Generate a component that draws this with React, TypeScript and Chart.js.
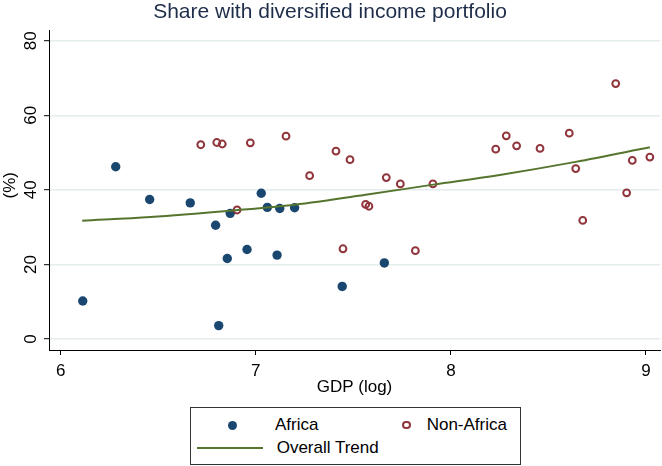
import React, { useEffect, useRef } from "react";
import { Chart, registerables } from "chart.js";

Chart.register(...registerables);

const FONT = "'Liberation Sans', Arial, Helvetica, sans-serif";

const titleText = "Share with diversified income portfolio";
const xTitle = "GDP (log)";
const yTitle = "  (%)";
const xTickValues = [6, 7, 8, 9];
const yTickValues = [0, 20, 40, 60, 80];

const africaX = [6.113, 6.282, 6.456, 6.664, 6.794, 6.81, 6.854, 6.869, 6.955, 7.028, 7.059, 7.109, 7.123, 7.199, 7.443, 7.659];
const africaY = [10.2, 46.2, 37.4, 36.5, 30.5, 3.6, 21.6, 33.7, 24.0, 39.1, 35.3, 22.5, 35.0, 35.2, 14.1, 20.4];

const nonAfricaX = [6.718, 6.8, 6.828, 6.972, 7.155, 6.904, 7.276, 7.411, 7.483, 7.563, 7.58, 7.447, 7.669, 7.741, 7.818, 7.908, 8.23, 8.284, 8.337, 8.457, 8.607, 8.64, 8.676, 8.845, 8.901, 8.93, 9.02];
const nonAfricaY = [52.1, 52.7, 52.3, 52.6, 54.4, 34.6, 43.8, 50.4, 48.1, 36.1, 35.6, 24.2, 43.3, 41.6, 23.7, 41.6, 50.9, 54.5, 51.8, 51.1, 55.2, 45.7, 31.8, 68.5, 39.2, 47.9, 48.8];

const trendX = [6.11, 6.46, 6.87, 7.2, 7.58, 7.91, 8.25, 8.64, 9.02];
const trendY = [31.7, 32.7, 34.4, 36.0, 38.8, 41.4, 44.0, 47.5, 51.4];

const NAVY = "#1a476f";
const MAROON = "#90353b";
const GREEN = "#55752f";

function pts(xs: number[], ys: number[]) {
  return xs.map((x, i) => ({ x, y: ys[i] }));
}

export default function App() {
  const ref = useRef<HTMLCanvasElement | null>(null);

  useEffect(() => {
    if (!ref.current) return;
    const chart = new Chart(ref.current, {
      type: "scatter",
      data: {
        datasets: [
          {
            label: "Overall Trend",
            data: pts(trendX, trendY),
            showLine: true,
            borderColor: GREEN,
            borderWidth: 2,
            pointRadius: 0,
            cubicInterpolationMode: "monotone",
            fill: false,
          } as any,
          {
            label: "Non-Africa",
            data: pts(nonAfricaX, nonAfricaY),
            pointRadius: 3.4,
            pointBorderWidth: 2,
            borderColor: MAROON,
            backgroundColor: "rgba(0,0,0,0)",
            pointBackgroundColor: "rgba(0,0,0,0)",
            pointBorderColor: MAROON,
          },
          {
            label: "Africa",
            data: pts(africaX, africaY),
            pointRadius: 4.7,
            pointBorderWidth: 0,
            backgroundColor: NAVY,
            pointBackgroundColor: NAVY,
            borderColor: NAVY,
          },
        ],
      },
      options: {
        responsive: false,
        animation: false,
        events: [],
        layout: { autoPadding: false, padding: { left: 0, right: 2, top: 0, bottom: 60 } },
        plugins: {
          legend: { display: false },
          tooltip: { enabled: false },
          title: {
            display: true,
            text: titleText,
            color: "#1e2d4a",
            font: { family: FONT, size: 21, weight: "normal", lineHeight: 1.2 },
            padding: { top: 0, bottom: 4.8 },
          },
        },
        scales: {
          x: {
            type: "linear",
            min: 5.94,
            max: 9.072,
            afterFit: (s: any) => {
              s.height = 56;
              s.paddingLeft = 0;
              s.paddingRight = 0;
              s.paddingTop = 0;
              s.paddingBottom = 0;
            },
            afterBuildTicks: (s: any) => {
              s.ticks = xTickValues.map((v) => ({ value: v }));
            },
            grid: {
              drawOnChartArea: false,
              drawTicks: true,
              tickLength: 5,
              tickColor: "#000",
              tickWidth: 1,
            },
            border: { display: true, color: "#000", width: 1 },
            ticks: {
              color: "#000",
              font: { family: FONT, size: 17 },
              padding: 6,
              maxRotation: 0,
              minRotation: 0,
              autoSkip: false,
            },
            title: {
              display: true,
              text: xTitle,
              color: "#000",
              font: { family: FONT, size: 17 },
              padding: { top: 0, bottom: 8.8 },
            },
          },
          y: {
            type: "linear",
            min: -2.95,
            max: 82.87,
            afterFit: (s: any) => {
              s.width = 49;
              s.paddingLeft = 0;
              s.paddingRight = 0;
              s.paddingTop = 0;
              s.paddingBottom = 0;
            },
            afterBuildTicks: (s: any) => {
              s.ticks = yTickValues.map((v) => ({ value: v }));
            },
            grid: {
              drawOnChartArea: true,
              color: "#e4ecee",
              lineWidth: 1.4,
              drawTicks: true,
              tickLength: 5,
              tickColor: "#000",
              tickWidth: 1,
            },
            border: { display: true, color: "#000", width: 1 },
            ticks: {
              color: "#000",
              font: { family: FONT, size: 17 },
              padding: 3,
              minRotation: 90,
              maxRotation: 90,
              crossAlign: "center",
              autoSkip: false,
            },
            title: {
              display: true,
              text: yTitle,
              color: "#000",
              font: { family: FONT, size: 17 },
              padding: { top: 0, bottom: 0 },
            },
          },
        },
      } as any,
    });
    return () => chart.destroy();
  }, []);

  const textStyle: React.CSSProperties = {
    position: "absolute",
    height: 20,
    lineHeight: "20px",
    fontFamily: FONT,
    fontSize: 17,
    color: "#000",
    whiteSpace: "nowrap",
  };

  return (
    <div
      style={{
        position: "fixed",
        left: 0,
        top: 0,
        width: 662,
        height: 466,
        background: "#fff",
        overflow: "hidden",
      }}
    >
      <canvas ref={ref} width={662} height={466} style={{ display: "block", width: 662, height: 466 }} />
      <div
        style={{
          position: "absolute",
          left: 190,
          top: 407,
          width: 331,
          height: 58,
          border: "1px solid #333",
          boxSizing: "border-box",
          background: "#fff",
        }}
      />
      <div
        style={{
          position: "absolute",
          left: 228.2,
          top: 420.5,
          width: 9,
          height: 9,
          borderRadius: "50%",
          background: NAVY,
        }}
      />
      <div style={{ ...textStyle, left: 275, top: 415 }}>Africa</div>
      <div
        style={{
          position: "absolute",
          left: 402.3,
          top: 420.6,
          width: 8.8,
          height: 8.8,
          borderRadius: "50%",
          border: `2px solid ${MAROON}`,
          boxSizing: "border-box",
        }}
      />
      <div style={{ ...textStyle, left: 426.7, top: 415 }}>Non-Africa</div>
      <div
        style={{
          position: "absolute",
          left: 197,
          top: 447.3,
          width: 66,
          height: 2,
          background: GREEN,
        }}
      />
      <div style={{ ...textStyle, left: 276.7, top: 438.3 }}>Overall Trend</div>
    </div>
  );
}
